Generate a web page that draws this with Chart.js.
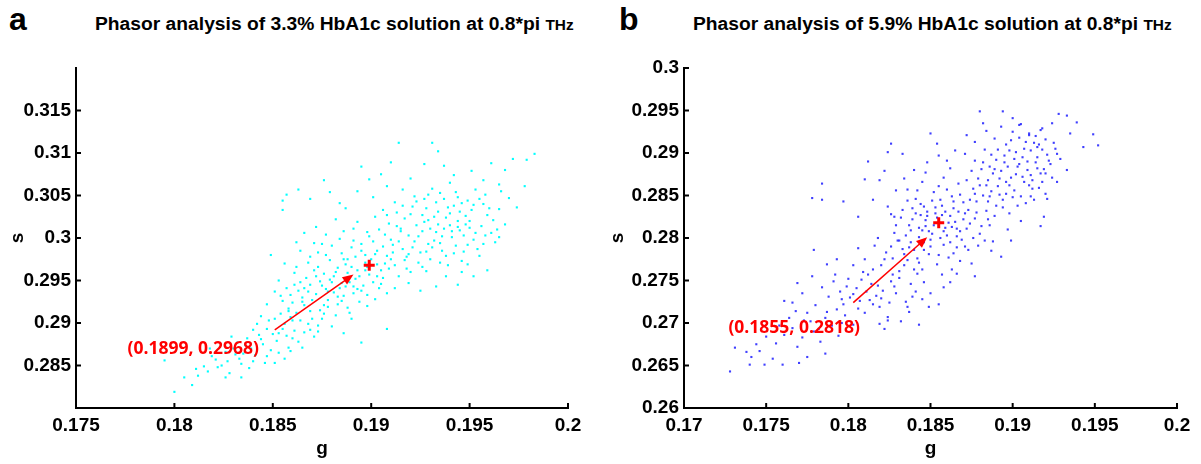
<!DOCTYPE html>
<html>
<head>
<meta charset="utf-8">
<script src="https://cdn.jsdelivr.net/npm/chart.js@4.4.1/dist/chart.umd.min.js"></script>
<style>
  body { margin: 0; background: #fff; width: 1201px; height: 464px; overflow: hidden; position: relative; font-family: 'Liberation Sans', Arial, sans-serif; }
  canvas { position: absolute; top: 0; }
  .letter { position: absolute; top: 3px; font-size: 32px; font-weight: bold; line-height: 32px; }
  .title { position: absolute; top: 16px; font-size: 17.5px; font-weight: bold; line-height: 17.5px; white-space: nowrap; transform: scaleX(1.1); transform-origin: left top; }
  .title span { font-size: 14px; }
</style>
</head>
<body>
<div class="letter" style="left:9px">a</div>
<div class="title" style="left:95px">Phasor analysis of 3.3% HbA1c solution at 0.8*pi <span>THz</span></div>
<div class="letter" style="left:619px">b</div>
<div class="title" style="left:693px">Phasor analysis of 5.9% HbA1c solution at 0.8*pi <span>THz</span></div>
<canvas id="chartA" width="600" height="464" style="left:0"></canvas>
<canvas id="chartB" width="601" height="464" style="left:600px"></canvas>
<script>
// panel a: 3.3% HbA1c, points as [g, s]
const pointsA = [
  [0.1903,0.2985],[0.1911,0.2992],[0.1907,0.3004],[0.1918,0.2978],[0.1922,0.2996],[0.1915,0.3011],[0.1926,0.3008],[0.1931,0.2989],
  [0.1929,0.3021],[0.1936,0.3002],[0.1940,0.3015],[0.1934,0.3031],[0.1945,0.3009],[0.1948,0.3026],[0.1952,0.2998],[0.1943,0.2991],
  [0.1938,0.2979],[0.1924,0.2971],[0.1912,0.2968],[0.1905,0.2962],[0.1917,0.3023],[0.1909,0.3017],[0.1921,0.3037],[0.1933,0.3042],
  [0.1942,0.3038],[0.1951,0.3033],[0.1956,0.3014],[0.1959,0.3027],[0.1947,0.2984],[0.1939,0.2968],[0.1928,0.2961],[0.1914,0.2955],
  [0.1925,0.2983],[0.1932,0.2997],[0.1937,0.3011],[0.1944,0.3020],[0.1919,0.3003],[0.1908,0.2979],[0.1901,0.2996],[0.1913,0.3030],
  [0.1927,0.3046],[0.1935,0.3053],[0.1949,0.3044],[0.1957,0.3040],[0.1962,0.3021],[0.1961,0.3006],[0.1954,0.2987],[0.1946,0.2973],
  [0.1930,0.2975],[0.1920,0.2960],[0.1904,0.3010],[0.1898,0.3007],[0.1916,0.2987],[0.1923,0.3015],[0.1941,0.3001],[0.1950,0.3012],
  [0.1926,0.3027],[0.1938,0.3024],[0.1910,0.2998],[0.1944,0.3048],[0.1958,0.3051],[0.1953,0.3057],[0.1965,0.3034],[0.1968,0.3016],
  [0.1963,0.2995],[0.1955,0.2979],[0.1931,0.3058],[0.1922,0.3049],[0.1912,0.3042],[0.1902,0.3025],[0.1906,0.2990],[0.1917,0.2974],
  [0.1929,0.2993],[0.1934,0.3016],[0.1940,0.3029],[0.1947,0.3003],[0.1924,0.3002],[0.1915,0.3008],[0.1936,0.2985],[0.1928,0.3035],
  [0.1906,0.3033],[0.1914,0.2996],[0.1921,0.2989],[0.1927,0.3019],[0.1933,0.3007],[0.1939,0.3036],[0.1945,0.3031],[0.1950,0.3020],
  [0.1953,0.3006],[0.1957,0.2993],[0.1949,0.2992],[0.1942,0.2982],[0.1935,0.2971],[0.1926,0.2966],[0.1918,0.2964],[0.1910,0.2975],
  [0.1903,0.2969],[0.1897,0.2980],[0.1920,0.3028],[0.1932,0.3025],[0.1937,0.3046],[0.1946,0.3041],[0.1955,0.3046],[0.1960,0.3035],
  [0.1964,0.3010],[0.1958,0.3003],[0.1944,0.3013],[0.1930,0.3011],[0.1923,0.3043],[0.1916,0.3038],[0.1908,0.3027],[0.1913,0.3014],
  [0.1919,0.2981],[0.1928,0.2984],[0.1935,0.2994],[0.1941,0.3008],[0.1948,0.3016],[0.1952,0.3039],[0.1943,0.3054],[0.1929,0.3051],
  [0.1866,0.2921],[0.1872,0.2934],[0.1878,0.2927],[0.1869,0.2945],[0.1884,0.2941],[0.1881,0.2955],[0.1889,0.2948],[0.1893,0.2962],
  [0.1887,0.2969],[0.1876,0.2958],[0.1871,0.2962],[0.1864,0.2948],[0.1859,0.2933],[0.1862,0.2912],[0.1874,0.2915],[0.1883,0.2922],
  [0.1891,0.2935],[0.1896,0.2944],[0.1899,0.2957],[0.1892,0.2978],[0.1885,0.2982],[0.1879,0.2974],[0.1868,0.2971],[0.1861,0.2959],
  [0.1857,0.2941],[0.1865,0.2930],[0.1877,0.2940],[0.1886,0.2932],[0.1894,0.2925],[0.1901,0.2948],[0.1897,0.2971],[0.1890,0.2989],
  [0.1880,0.2991],[0.1873,0.2983],[0.1867,0.2953],[0.1855,0.2926],[0.1858,0.2917],[0.1870,0.2905],[0.1882,0.2909],[0.1888,0.2918],
  [0.1898,0.2933],[0.1904,0.2941],[0.1906,0.2953],[0.1900,0.2975],[0.1895,0.2985],[0.1874,0.2949],[0.1863,0.2938],[0.1888,0.2959],
  [0.1883,0.2965],[0.1879,0.2951],[0.1892,0.2952],[0.1870,0.2927],[0.1876,0.2921],[0.1885,0.2947],[0.1862,0.2966],[0.1853,0.2950],
  [0.1851,0.2937],[0.1847,0.2922],[0.1860,0.2903],[0.1873,0.2897],[0.1890,0.2905],[0.1902,0.2928],[0.1908,0.2935],[0.1909,0.2964],
  [0.1884,0.2999],[0.1871,0.2994],[0.1864,0.2985],[0.1856,0.2970],[0.1878,0.2937],[0.1893,0.2940],
  [0.1868,0.2937],[0.1875,0.2944],[0.1881,0.2936],[0.1887,0.2943],[0.1894,0.2955],[0.1890,0.2966],[0.1882,0.2960],[0.1873,0.2966],
  [0.1866,0.2941],[0.1860,0.2924],[0.1869,0.2914],[0.1878,0.2919],[0.1885,0.2926],[0.1895,0.2938],[0.1903,0.2955],[0.1898,0.2966],
  [0.1886,0.2975],[0.1877,0.2980],[0.1869,0.2978],[0.1861,0.2945],[0.1854,0.2932],[0.1876,0.2911],[0.1889,0.2912],[0.1898,0.2920],
  [0.1905,0.2946],[0.1880,0.2948],[0.1872,0.2955],[0.1891,0.2943],[0.1883,0.2931],[0.1865,0.2925],
  [0.1800,0.2819],[0.1809,0.2827],[0.1805,0.2836],[0.1811,0.2846],[0.1815,0.2849],[0.1821,0.2857],[0.1826,0.2836],[0.1834,0.2836],
  [0.1795,0.2856],[0.1812,0.2838],[0.1817,0.2843],[0.1828,0.2841],[0.1833,0.2858],[0.1826,0.2866],[0.1838,0.2847],[0.1841,0.2862],
  [0.1836,0.2874],[0.1844,0.2881],[0.1849,0.2868],[0.1847,0.2893],[0.1852,0.2879],[0.1856,0.2899],[0.1853,0.2888],[0.1858,0.2871],
  [0.1843,0.2886],[0.1832,0.2877],[0.1824,0.2850],[0.1829,0.2884],[0.1840,0.2892],[0.1835,0.2864],[0.1846,0.2853],[0.1851,0.2853],
  [0.1856,0.2858],[0.1859,0.2867],[0.1857,0.2885],[0.1861,0.2891],[0.1859,0.2907],[0.1854,0.2911],[0.1848,0.2903],[0.1842,0.2899],
  [0.1837,0.2882],[0.1830,0.2870],[0.1819,0.2861],[0.1863,0.2878],[0.1866,0.2889],[0.1868,0.2899],[0.1871,0.2884],[0.1875,0.2905],
  [0.1880,0.2896],[0.1895,0.2877],[0.1908,0.2893],[0.1886,0.2888],
  [0.1839,0.2870],[0.1845,0.2875],[0.1850,0.2887],[0.1855,0.2893],[0.1860,0.2882],[0.1853,0.2865],[0.1847,0.2861],[0.1834,0.2852],
  [0.1827,0.2855],[0.1840,0.2855],[0.1864,0.2903],[0.1858,0.2914],[0.1851,0.2905],[0.1844,0.2908],[0.1865,0.2871],[0.1869,0.2892],
  [0.1873,0.2890],[0.1831,0.2863],[0.1822,0.2848],[0.1818,0.2870],
  [0.1914,0.3112],[0.1931,0.3112],[0.1934,0.3102],[0.1983,0.3099],[0.1979,0.3092],[0.1961,0.3088],[0.1972,0.3093],[0.1968,0.3080],
  [0.1978,0.3061],[0.1965,0.3063],[0.1910,0.3089],[0.1927,0.3087],[0.1855,0.3044],[0.1855,0.3033],[0.1863,0.3057],[0.1876,0.3068],
  [0.1879,0.3054],[0.1895,0.3084],[0.1857,0.3051],[0.1869,0.3046],[0.1944,0.2945],[0.1925,0.2938],[0.1965,0.3001],[0.1933,0.2943],
  [0.1949,0.2969],[0.1899,0.3069],[0.1905,0.3075],[0.1920,0.3070],[0.1942,0.3074],[0.1951,0.3079],[0.1937,0.3085],[0.1957,0.3068],
  [0.1970,0.3047],[0.1974,0.3036],[0.1966,0.3055],[0.1887,0.3035],[0.1882,0.3022],[0.1891,0.3011],[0.1872,0.3013],[0.1866,0.3006],
  [0.1884,0.3041],[0.1893,0.3055],[0.1901,0.3048],[0.1908,0.3061],[0.1916,0.3057],[0.1940,0.3065],[0.1959,0.2962],[0.1952,0.2955],
  [0.1938,0.2955],[0.1919,0.2947],[0.1912,0.2941],[0.1946,0.2960],[0.1877,0.3004],[0.1875,0.2993],[0.1849,0.2980],[0.1862,0.2995],
  [0.1888,0.2975],[0.1895,0.2993],[0.1902,0.2981],[0.1907,0.2970],[0.1897,0.2962],[0.1891,0.2997],[0.1899,0.3002],[0.1911,0.2983],
  [0.1886,0.3008],[0.1893,0.3019]
];
const meanA = [0.1899, 0.2968];
const arrowA = [[0.1851, 0.2892], [0.1891, 0.2957]];
const labelA = [0.1843, 0.2869];
const xTicksA = [0.175, 0.18, 0.185, 0.19, 0.195, 0.2];
const yTicksA = [0.285, 0.29, 0.295, 0.3, 0.305, 0.31, 0.315];

// panel b: 5.9% HbA1c
const pointsB = [
  [0.1855,0.2818],[0.1843,0.2812],[0.1851,0.2805],[0.1862,0.2826],[0.1848,0.2831],[0.1839,0.2822],[0.1857,0.2838],[0.1866,0.2811],
  [0.1871,0.2829],[0.1846,0.2795],[0.1835,0.2803],[0.1858,0.2792],[0.1869,0.2798],[0.1874,0.2817],[0.1878,0.2843],[0.1863,0.2849],
  [0.1852,0.2854],[0.1841,0.2846],[0.1833,0.2833],[0.1837,0.2789],[0.1849,0.2781],[0.1861,0.2777],[0.1873,0.2786],[0.1880,0.2805],
  [0.1884,0.2832],[0.1876,0.2858],[0.1867,0.2864],[0.1845,0.2866],[0.1836,0.2857],[0.1829,0.2815],[0.1831,0.2797],[0.1842,0.2776],
  [0.1854,0.2769],[0.1866,0.2789],[0.1859,0.2812],[0.1847,0.2821],[0.1853,0.2829],[0.1860,0.2803],[0.1870,0.2842],[0.1844,0.2840],
  [0.1838,0.2809],[0.1850,0.2798],[0.1864,0.2835],[0.1877,0.2823],[0.1856,0.2845],[0.1840,0.2786],[0.1868,0.2773],[0.1879,0.2791],
  [0.1886,0.2815],[0.1882,0.2850],[0.1872,0.2868],[0.1858,0.2871],[0.1847,0.2877],[0.1834,0.2870],[0.1826,0.2828],[0.1828,0.2806],
  [0.1834,0.2781],[0.1845,0.2763],[0.1857,0.2757],[0.1863,0.2763],[0.1875,0.2770],[0.1883,0.2797],[0.1889,0.2826],[0.1852,0.2815],
  [0.1861,0.2818],[0.1849,0.2808],[0.1844,0.2827],[0.1866,0.2802],[0.1839,0.2835],[0.1873,0.2833],
  [0.1847,0.2814],[0.1854,0.2824],[0.1859,0.2831],[0.1865,0.2819],[0.1868,0.2808],[0.1862,0.2795],[0.1856,0.2800],[0.1850,0.2790],
  [0.1843,0.2801],[0.1837,0.2815],[0.1841,0.2829],[0.1846,0.2837],[0.1851,0.2844],[0.1860,0.2857],[0.1868,0.2851],[0.1874,0.2845],
  [0.1878,0.2830],[0.1881,0.2814],[0.1876,0.2800],[0.1871,0.2790],[0.1864,0.2782],[0.1855,0.2780],[0.1846,0.2786],[0.1838,0.2795],
  [0.1832,0.2824],[0.1836,0.2844],[0.1842,0.2856],[0.1855,0.2861],[0.1864,0.2843],[0.1870,0.2822],[0.1858,0.2808],[0.1848,0.2826],
  [0.1853,0.2836],[0.1863,0.2813],[0.1872,0.2811],[0.1857,0.2827],[0.1845,0.2809],[0.1867,0.2831],[0.1877,0.2852],[0.1885,0.2822],
  [0.1885,0.2868],[0.1893,0.2879],[0.1898,0.2862],[0.1904,0.2887],[0.1911,0.2874],[0.1902,0.2901],[0.1890,0.2892],[0.1881,0.2881],
  [0.1896,0.2910],[0.1908,0.2913],[0.1915,0.2895],[0.1919,0.2881],[0.1912,0.2858],[0.1905,0.2849],[0.1894,0.2845],[0.1887,0.2855],
  [0.1899,0.2871],[0.1907,0.2866],[0.1916,0.2910],[0.1921,0.2898],[0.1910,0.2921],[0.1900,0.2925],[0.1889,0.2917],[0.1883,0.2904],
  [0.1877,0.2891],[0.1879,0.2870],[0.1891,0.2861],[0.1903,0.2838],[0.1913,0.2845],[0.1918,0.2866],[0.1923,0.2887],[0.1926,0.2905],
  [0.1895,0.2897],[0.1906,0.2895],[0.1886,0.2884],[0.1897,0.2884],[0.1909,0.2880],[0.1901,0.2856],[0.1892,0.2870],[0.1914,0.2889],
  [0.1884,0.2926],[0.1893,0.2931],[0.1905,0.2934],[0.1917,0.2927],[0.1920,0.2916],[0.1911,0.2903],[0.1899,0.2915],[0.1887,0.2898],
  [0.1875,0.2879],[0.1880,0.2862],[0.1896,0.2852],[0.1908,0.2841],[0.1920,0.2852],[0.1924,0.2871],[0.1929,0.2893],[0.1890,0.2838],
  [0.1898,0.2829],[0.1885,0.2843],[0.1902,0.2875],[0.1912,0.2868],
  [0.1888,0.2876],[0.1895,0.2889],[0.1901,0.2893],[0.1907,0.2905],[0.1913,0.2912],[0.1918,0.2904],[0.1922,0.2891],[0.1917,0.2876],
  [0.1910,0.2862],[0.1900,0.2848],[0.1892,0.2851],[0.1884,0.2862],[0.1882,0.2889],[0.1891,0.2904],[0.1898,0.2903],[0.1904,0.2918],
  [0.1914,0.2920],[0.1925,0.2912],[0.1927,0.2899],[0.1915,0.2882],[0.1906,0.2872],[0.1896,0.2866],[0.1889,0.2881],[0.1903,0.2884],
  [0.1909,0.2890],[0.1920,0.2876],[0.1916,0.2859],[0.1911,0.2849],[0.1894,0.2836],[0.1886,0.2849],
  [0.1812,0.2757],[0.1820,0.2768],[0.1805,0.2741],[0.1826,0.2749],[0.1817,0.2732],[0.1831,0.2761],[0.1836,0.2774],[0.1823,0.2783],
  [0.1810,0.2775],[0.1800,0.2752],[0.1795,0.2737],[0.1807,0.2726],[0.1819,0.2719],[0.1829,0.2735],[0.1838,0.2746],[0.1842,0.2758],
  [0.1833,0.2787],[0.1816,0.2791],[0.1803,0.2768],[0.1791,0.2749],[0.1797,0.2722],[0.1810,0.2712],[0.1824,0.2707],[0.1835,0.2725],
  [0.1841,0.2737],[0.1846,0.2748],[0.1827,0.2776],[0.1814,0.2746],[0.1821,0.2738],[0.1809,0.2760],[0.1801,0.2730],[0.1793,0.2716],
  [0.1788,0.2731],[0.1784,0.2742],[0.1806,0.2788],[0.1818,0.2800],[0.1830,0.2797],[0.1825,0.2724],[0.1837,0.2713],[0.1845,0.2728],
  [0.1813,0.2727],[0.1798,0.2709],[0.1786,0.2706],[0.1780,0.2721],[0.1790,0.2697],[0.1803,0.2698],[0.1822,0.2693],[0.1832,0.2702],
  [0.1849,0.2719],[0.1836,0.2719],[0.1824,0.2703],[0.1819,0.2699],
  [0.1815,0.2763],[0.1808,0.2751],[0.1818,0.2744],[0.1827,0.2757],[0.1834,0.2768],[0.1822,0.2775],[0.1811,0.2737],[0.1803,0.2734],
  [0.1796,0.2728],[0.1815,0.2722],[0.1828,0.2743],[0.1840,0.2763],[0.1831,0.2753],[0.1806,0.2717],[0.1799,0.2743],[0.1792,0.2757],
  [0.1820,0.2729],[0.1839,0.2731],[0.1843,0.2771],[0.1826,0.2790],
  [0.1728,0.2643],[0.1731,0.2671],[0.1738,0.2666],[0.1741,0.2660],[0.1746,0.2667],[0.1740,0.2651],[0.1749,0.2651],[0.1754,0.2658],
  [0.1760,0.2651],[0.1770,0.2653],[0.1775,0.2660],[0.1786,0.2664],[0.1769,0.2672],[0.1756,0.2676],[0.1761,0.2686],[0.1766,0.2694],
  [0.1772,0.2683],[0.1779,0.2690],[0.1764,0.2706],[0.1777,0.2702],[0.1783,0.2678],[0.1794,0.2685],[0.1761,0.2726],[0.1766,0.2724],
  [0.1769,0.2747],[0.1778,0.2755],[0.1779,0.2786],[0.1772,0.2735],[0.1775,0.2712],[0.1787,0.2769],[0.1793,0.2775],
  [0.1782,0.2693],[0.1787,0.2713],[0.1768,0.2714],[0.1758,0.2697],[0.1750,0.2684],[0.1744,0.2675],[0.1773,0.2703],[0.1796,0.2700],
  [0.1880,0.2949],[0.1894,0.2949],[0.1928,0.2946],[0.1933,0.2944],[0.1939,0.2936],[0.1949,0.2922],[0.1943,0.2907],[0.1952,0.2909],
  [0.1924,0.2935],[0.1918,0.2929],[0.1935,0.2923],[0.1933,0.2880],[0.1927,0.2866],[0.1921,0.2846],[0.1919,0.2825],[0.1917,0.2814],
  [0.1893,0.2778],[0.1866,0.2758],[0.1888,0.2796],[0.1778,0.2847],[0.1784,0.2845],[0.1784,0.2864],[0.1797,0.2843],[0.1812,0.2890],
  [0.1810,0.2869],[0.1826,0.2911],[0.1833,0.2899],[0.1824,0.2901],[0.1822,0.2879],[0.1829,0.2856],[0.1819,0.2868],[0.1815,0.2845],
  [0.1806,0.2825],[0.1824,0.2837],[0.1828,0.2825],[0.1850,0.2923],[0.1854,0.2911],[0.1865,0.2903],[0.1872,0.2921],[0.1877,0.2913],
  [0.1882,0.2935],[0.1900,0.2941],[0.1904,0.2933],[0.1910,0.2923],[0.1915,0.2907],[0.1860,0.2891],[0.1848,0.2889],[0.1840,0.2880],
  [0.1862,0.2882],[0.1855,0.2897],[0.1871,0.2899],[0.1897,0.2810],[0.1905,0.2820],[0.1899,0.2797],[0.1887,0.2785],[0.1877,0.2755],
  [0.1858,0.2742],[0.1850,0.2735],[0.1862,0.2748],[0.1843,0.2698],[0.1855,0.2722]
];
const meanB = [0.1855, 0.2818];
const arrowB = [[0.1803, 0.2724], [0.1848, 0.2801]];
const labelB = [0.1807, 0.2694];
const xTicksB = [0.17, 0.175, 0.18, 0.185, 0.19, 0.195, 0.2];
const yTicksB = [0.26, 0.265, 0.27, 0.275, 0.28, 0.285, 0.29, 0.295, 0.3];

const fmt = v => String(+Number(v).toFixed(3));
const tickFont = { family: "'Liberation Sans', Arial, sans-serif", weight: 'bold', size: 19 };

// tick marks pointing inward, arrow and the red coordinate label
const decor = {
  id: 'decor',
  afterDatasetsDraw(chart, args, o) {
    const { ctx } = chart;
    const x = chart.scales.x, y = chart.scales.y;
    ctx.save();
    ctx.strokeStyle = '#000';
    ctx.lineWidth = 2;
    o.xTicks.forEach(v => {
      const px = x.getPixelForValue(v);
      ctx.beginPath(); ctx.moveTo(px, y.bottom); ctx.lineTo(px, y.bottom - 5); ctx.stroke();
    });
    o.yTicks.forEach(v => {
      const py = y.getPixelForValue(v);
      ctx.beginPath(); ctx.moveTo(x.left, py); ctx.lineTo(x.left + 5, py); ctx.stroke();
    });
    const x0 = x.getPixelForValue(o.arrow[0][0]), y0 = y.getPixelForValue(o.arrow[0][1]);
    const x1 = x.getPixelForValue(o.arrow[1][0]), y1 = y.getPixelForValue(o.arrow[1][1]);
    const a = Math.atan2(y1 - y0, x1 - x0);
    ctx.strokeStyle = 'red'; ctx.fillStyle = 'red'; ctx.lineWidth = 1.5;
    ctx.beginPath(); ctx.moveTo(x0, y0); ctx.lineTo(x1 - 8 * Math.cos(a), y1 - 8 * Math.sin(a)); ctx.stroke();
    ctx.beginPath();
    ctx.moveTo(x1, y1);
    ctx.lineTo(x1 - 11 * Math.cos(a) + 4.5 * Math.sin(a), y1 - 11 * Math.sin(a) - 4.5 * Math.cos(a));
    ctx.lineTo(x1 - 11 * Math.cos(a) - 4.5 * Math.sin(a), y1 - 11 * Math.sin(a) + 4.5 * Math.cos(a));
    ctx.closePath(); ctx.fill();
    ctx.font = "bold 17.5px 'Open Sans', sans-serif";
    ctx.textAlign = 'right'; ctx.textBaseline = 'middle';
    ctx.fillText(o.text, x.getPixelForValue(o.label[0]), y.getPixelForValue(o.label[1]));
    ctx.restore();
  }
};

function makeChart(id, points, mean, color, xMin, xMax, yMin, yMax, xTicks, yTicks, arrow, label, yWidth, padRight) {
  return new Chart(document.getElementById(id), {
    type: 'scatter',
    data: {
      datasets: [
        { data: [{ x: mean[0], y: mean[1] }], pointStyle: 'cross', pointRadius: 5.5, borderColor: 'red', borderWidth: 3 },
        { data: points.map(p => ({ x: p[0], y: p[1] })), pointStyle: 'rect', pointRadius: 1.5,
          backgroundColor: color, borderWidth: 0 }
      ]
    },
    options: {
      responsive: false,
      animation: false,
      layout: { padding: { top: 68, right: padRight, left: 0, bottom: 0 } },
      plugins: {
        legend: { display: false },
        tooltip: { enabled: false },
        decor: { xTicks: xTicks, yTicks: yTicks, arrow: arrow, label: label,
                 text: '(' + mean[0].toFixed(4) + ', ' + mean[1].toFixed(4) + ')' }
      },
      scales: {
        x: {
          type: 'linear', min: xMin, max: xMax,
          afterBuildTicks: s => { s.ticks = xTicks.map(v => ({ value: v })); },
          afterFit: s => { s.height = 56; },
          grid: { display: false, drawTicks: false },
          border: { display: true, color: '#000', width: 2 },
          ticks: { font: tickFont, color: '#000', padding: 6, maxRotation: 0, callback: fmt },
          title: { display: true, text: 'g', font: tickFont, color: '#000', padding: { top: 0, bottom: 4 } }
        },
        y: {
          type: 'linear', min: yMin, max: yMax,
          afterBuildTicks: s => { s.ticks = yTicks.map(v => ({ value: v })); },
          afterFit: s => { s.width = yWidth; },
          grid: { display: false, drawTicks: false },
          border: { display: true, color: '#000', width: 2 },
          ticks: { font: tickFont, color: '#000', padding: 5, callback: fmt },
          title: { display: true, text: 's', font: tickFont, color: '#000', padding: { top: 6, bottom: 0 } }
        }
      }
    },
    plugins: [decor]
  });
}

makeChart('chartA', pointsA, meanA, 'rgb(0,255,255)', 0.175, 0.2, 0.28, 0.32, xTicksA, yTicksA, arrowA, labelA, 76, 32);
makeChart('chartB', pointsB, meanB, 'rgba(0,0,255,0.75)', 0.17, 0.2, 0.26, 0.3, xTicksB, yTicksB, arrowB, labelB, 84, 24);
</script>
</body>
</html>
